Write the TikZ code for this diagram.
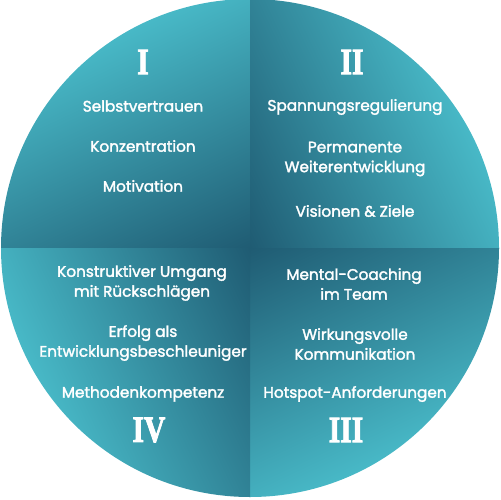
\documentclass[tikz,border=0pt]{standalone}
\usepackage{fontspec}
\usetikzlibrary{calc}
\newfontfamily\pop{Poppins}[FakeBold=2]
\newfontfamily\numfont{Liberation Serif}[FakeBold=2.5]
\definecolor{tdark}{HTML}{1C546C}
\definecolor{tlight}{HTML}{48B9C7}
\begin{document}
\begin{tikzpicture}[x=0.02cm,y=-0.02cm,
  item/.style={text=white,font=\pop\fontsize{8.7}{11.3}\selectfont,align=center,inner sep=0pt},
  numeral/.style={text=white,font=\numfont\bfseries\fontsize{21}{21}\selectfont,inner sep=0pt,xscale=0.8}]
\useasboundingbox (0,0) rectangle (500,500);
\coordinate (C) at (250,248);
\def\R{249}
% quadrants
\begin{scope}
\clip (C) circle[radius=\R];
% Q I
\begin{scope}
\clip (0,0) rectangle (C);
\begin{scope}[transform canvas={rotate around={25:(C)}}]
\shade[bottom color=tdark,top color=tlight] ($(C)+(-270,20)$) rectangle ($(C)+(270,-250)$);
\end{scope}
\end{scope}
% Q II
\begin{scope}
\clip (500,0) rectangle (C);
\begin{scope}[transform canvas={rotate around={-65:(C)}}]
\shade[bottom color=tdark,top color=tlight] ($(C)+(-270,20)$) rectangle ($(C)+(270,-250)$);
\end{scope}
\end{scope}
% Q III
\begin{scope}
\clip (500,500) rectangle (C);
\begin{scope}[transform canvas={rotate around={-155:(C)}}]
\shade[bottom color=tdark,top color=tlight] ($(C)+(-270,20)$) rectangle ($(C)+(270,-250)$);
\end{scope}
\end{scope}
% Q IV
\begin{scope}
\clip (0,500) rectangle (C);
\begin{scope}[transform canvas={rotate around={115:(C)}}]
\shade[bottom color=tdark,top color=tlight] ($(C)+(-270,20)$) rectangle ($(C)+(270,-250)$);
\end{scope}
\end{scope}
\end{scope}
% numerals
\node[numeral] (n1) at (143,62) {I};
\node[numeral] (n2) at (352,62) {II};
\node[numeral] (n3) at (346,430) {III};
\node[numeral] (n4) at (149,430) {IV};
% Q I texts
\node[item] (a1) at (143,106) {Selbstvertrauen};
\node[item] (a2) at (143,146) {Konzentration};
\node[item] (a3) at (143,186) {Motivation};
% Q II texts
\node[item] (b1) at (355,107) {Spannungsregulierung};
\node[item] (b2) at (355,159) {Permanente\\Weiterentwicklung};
\node[item] (b3) at (355,211) {Visionen \& Ziele};
% Q IV texts
\node[item] (d1) at (142,283) {Konstruktiver Umgang\\mit Rückschlägen};
\node[item] (d2) at (143,343) {Erfolg als\\Entwicklungsbeschleuniger};
\node[item] (d3) at (143,394) {Methodenkompetenz};
% Q III texts
\node[item] (c1) at (354,284) {Mental-Coaching\\im Team};
\node[item] (c2) at (355,344) {Wirkungsvolle\\Kommunikation};
\node[item] (c3) at (355,394) {Hotspot-Anforderungen};
\end{tikzpicture}
\end{document}
